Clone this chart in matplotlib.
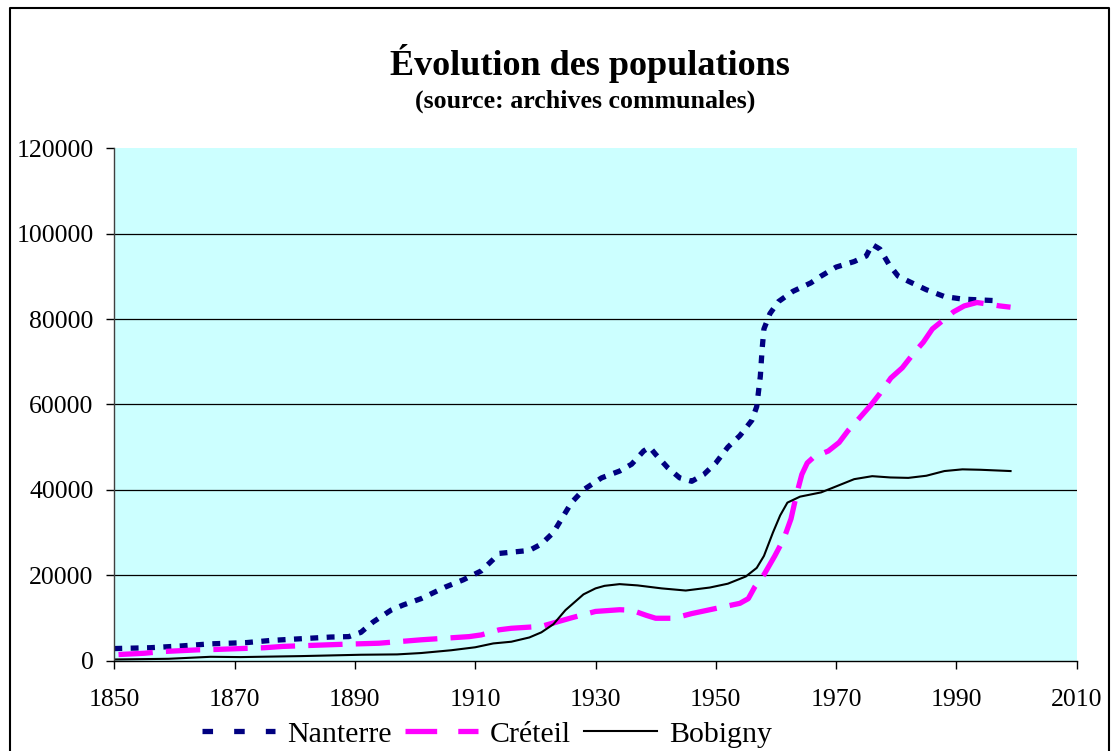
import matplotlib
matplotlib.use("Agg")
import matplotlib.pyplot as plt
from matplotlib.lines import Line2D

# ---- data ----
nanterre_years = [1850, 1856, 1861, 1866, 1872, 1876, 1881, 1886, 1889, 1891, 1893, 1896,
                  1898, 1901, 1905, 1908, 1911, 1913, 1914, 1919, 1921, 1923, 1926, 1928,
                  1931, 1934, 1936, 1938, 1939, 1940, 1942, 1944, 1946, 1948, 1950, 1952,
                  1954, 1956, 1956.8, 1957.4, 1957.7, 1958, 1959, 1960.4, 1962.8, 1965.8,
                  1967.5, 1970, 1973, 1975, 1976, 1977.3, 1978.8, 1980.3, 1982, 1985, 1988,
                  1991, 1994, 1997]
nanterre_pop = [2800, 3000, 3400, 3900, 4200, 4700, 5100, 5500, 5600, 6600, 9000, 11800,
                13000, 14500, 17200, 18900, 21000, 23700, 25100, 25800, 27300, 30000, 37000,
                40000, 42800, 44400, 46000, 49100, 50000, 48300, 45200, 42800, 42000, 43600,
                46300, 50000, 52700, 56300, 59500, 66600, 73000, 77700, 81300, 84100, 86500,
                88500, 90100, 92200, 93500, 94800, 97500, 96400, 92800, 90100, 88900, 86900,
                85300, 84700, 84500, 84300]

creteil_years = [1850.7, 1855, 1858, 1864, 1867, 1875, 1878, 1884, 1888, 1894, 1901, 1909,
                 1911, 1914, 1916, 1921, 1923.5, 1926, 1930, 1934, 1936, 1938.4, 1940, 1943,
                 1946, 1950, 1954, 1955.4, 1956.5, 1958, 1959.8, 1961.3, 1962.5, 1963.4,
                 1964.3, 1965.2, 1966.3, 1968.7, 1970.5, 1972, 1973.8, 1975.8, 1977.3,
                 1979.1, 1981, 1983, 1984.5, 1986, 1987.4, 1989.5, 1991.3, 1993.4, 1995.4,
                 1997.2, 1999]
creteil_pop = [1400, 1700, 2100, 2500, 2600, 3000, 3300, 3600, 3800, 4050, 4850, 5600,
               6000, 7200, 7550, 8000, 9000, 10000, 11500, 11900, 11800, 10600, 9900, 9900,
               11000, 12200, 13400, 14500, 17300, 20100, 24500, 28500, 33200, 38800,
               43600, 46300, 47700, 49100, 51100, 53900, 56700, 59900, 62600,
               66200, 68600, 72200, 74600, 77700, 79300, 81700, 83100, 83900, 83500,
               83100, 82800]

bobigny_years = [1850, 1859, 1866, 1871, 1881, 1891, 1897, 1901, 1906, 1910, 1913, 1916,
                 1919, 1921, 1923, 1925, 1928, 1930, 1931.5, 1934, 1937, 1941, 1945, 1949,
                 1952, 1955, 1956.8, 1958, 1959.5, 1960.7, 1961.9, 1964, 1967.5, 1970,
                 1973, 1976, 1979, 1982, 1985, 1988, 1991, 1994, 1999]
bobigny_pop = [240, 400, 870, 800, 1030, 1350, 1430, 1750, 2400, 3100, 4000, 4400,
               5400, 6600, 8500, 11800, 15500, 16900, 17500, 17900, 17600, 16900, 16400,
               17100, 18000, 19700, 21700, 24500, 30000, 34000, 37000, 38400, 39400,
               40800, 42500, 43200, 42900, 42800, 43300, 44400, 44800, 44700, 44400]

series_names = ["Nanterre", "Créteil", "Bobigny"]
x_ticks = [1850, 1870, 1890, 1910, 1930, 1950, 1970, 1990, 2010]
y_ticks = [0, 20000, 40000, 60000, 80000, 100000, 120000]
title = "Évolution des populations"
subtitle = "(source: archives communales)"

# ---- figure ----
plt.rcParams['font.family'] = ['Liberation Serif', 'DejaVu Serif']
fig = plt.figure(figsize=(11.13, 7.51), dpi=100)
ax = fig.add_axes([0.1027, 0.1205, 0.9674 - 0.1027, 0.8023 - 0.1205])
ax.set_facecolor('#CCFFFF')

navy = '#000080'
magenta = '#FF00FF'

ax.plot(nanterre_years, nanterre_pop, color=navy, lw=3.8,
        dashes=(1.5, 1.6), dash_capstyle='butt', solid_joinstyle='round')
ax.plot(creteil_years, creteil_pop, color=magenta, lw=3.8,
        dashes=(6.5, 2.5), dash_capstyle='butt')
ax.plot(bobigny_years, bobigny_pop, color='black', lw=1.5)

ax.set_xlim(x_ticks[0], x_ticks[-1])
ax.set_ylim(y_ticks[0], y_ticks[-1])
ax.set_xticks(x_ticks)
ax.set_yticks(y_ticks)
ax.set_xticklabels([str(v) for v in x_ticks])
ax.set_yticklabels([str(v) for v in y_ticks])
for v in y_ticks[1:-1]:
    ax.axhline(v, color='black', lw=0.9, zorder=0.5)

for s in ['top', 'right']:
    ax.spines[s].set_visible(False)
ax.spines['left'].set_color('#404040')
ax.spines['bottom'].set_color('black')
ax.spines['left'].set_linewidth(1.0)
ax.spines['bottom'].set_linewidth(1.0)
ax.tick_params(axis='y', direction='out', length=6, width=1, labelsize=18.5, pad=9)
ax.tick_params(axis='x', direction='out', length=6, width=1, labelsize=18.5, pad=14.5)

fig.text(0.5296, 1 - 75 / 751, title, ha='center', va='baseline', fontsize=26, fontweight='bold')
fig.text(0.526, 1 - 107.5 / 751, subtitle, ha='center', va='baseline', fontsize=18.6,
         fontweight='bold')

handles = [
    Line2D([], [], color=navy, lw=3.8, dashes=(2.0, 4.0), dash_capstyle='butt'),
    Line2D([], [], color=magenta, lw=3.8, dashes=(6.0, 4.0), dash_capstyle='butt'),
    Line2D([], [], color='black', lw=1.5),
]
fig.legend(handles, series_names, loc='center', bbox_to_anchor=(0.4375, 0.0225),
           ncol=3, frameon=False, fontsize=21.5, handlelength=2.45, handletextpad=0.4,
           columnspacing=0.45, borderpad=0, borderaxespad=0)

# figure border (bottom edge falls outside the picture)
fig.add_artist(Line2D([10 / 1113, 10 / 1113, 1109 / 1113, 1109 / 1113],
                      [-0.05, 1 - 8 / 751, 1 - 8 / 751, -0.05],
                      transform=fig.transFigure, color='black', lw=1.5))

fig.savefig('out.png', dpi=100)
